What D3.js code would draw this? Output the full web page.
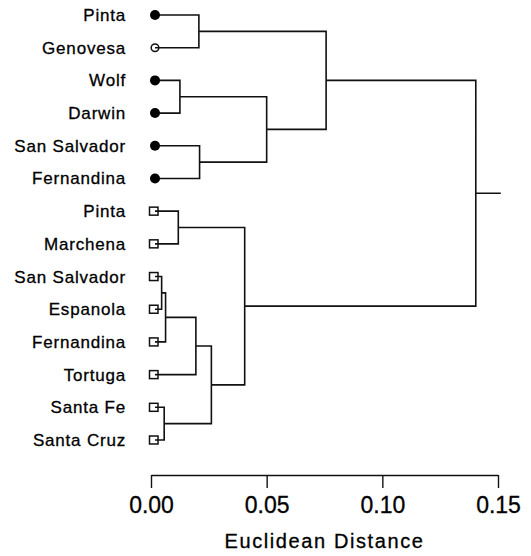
<!DOCTYPE html>
<html lang="en">
    <head>
        <meta charset="utf-8">
        <title>Dendrogram of island populations</title>
        <script src="https://d3js.org/d3.v7.min.js"></script>
        <style type="text/css">
            body{
                margin: 0;
                background: white;
            }
            svg{
                display: block;
            }
            .leafLabel{
                font-family: "Liberation Sans", Arial, sans-serif;
                font-size: 17px;
                letter-spacing: 0.8px;
                fill: black;
                stroke: black;
                stroke-width: 0.3px;
            }
            .axis text{
                font-family: "Liberation Sans", Arial, sans-serif;
                font-size: 23px;
                fill: black;
                stroke: black;
                stroke-width: 0.3px;
            }
            .axis path, .axis line{
                stroke: #111;
                stroke-width: 1.4px;
            }
            .branch{
                fill: none;
                stroke: #111;
                stroke-width: 1.6px;
            }
        </style>
    </head>
    <body>
        <svg width="531" height="556"></svg>
        <script type="text/javascript">

            // leaves, top to bottom
            const leafNames = ["Pinta", "Genovesa", "Wolf", "Darwin", "San Salvador", "Fernandina",
                               "Pinta", "Marchena", "San Salvador", "Espanola", "Fernandina", "Tortuga",
                               "Santa Fe", "Santa Cruz"];
            const leafMarkers = ["filled", "open", "filled", "filled", "filled", "filled",
                                 "square", "square", "square", "square", "square", "square",
                                 "square", "square"];

            // merges: node 14 onwards, children refer to leaf index (<14) or earlier merge
            const mergeLeft   = [2, 4, 0, 14, 16, 6, 8, 20, 21, 12, 22, 19, 18];
            const mergeRight  = [3, 5, 1, 15, 17, 7, 9, 10, 11, 13, 23, 24, 25];
            const mergeHeight = [0.0125, 0.021, 0.0207, 0.050, 0.0757, 0.0118, 0.0046,
                                 0.0063, 0.0194, 0.0057, 0.0261, 0.0405, 0.1404];

            const axisTicks = [0, 0.05, 0.10, 0.15];
            const axisTitle = "Euclidean Distance";

            const svg = d3.select("svg");

            const xScale = d3.scaleLinear()
                            .domain([0, 0.15])
                            .range([151, 498]);

            const yScale = d3.scalePoint()
                            .domain(d3.range(leafNames.length))
                            .range([15, 440]);

            const n = leafNames.length;
            const markerOffset = 4;

            // position of every node
            const nodeX = [];
            const nodeY = [];
            leafNames.forEach((d, i) => {
                nodeX[i] = xScale(0) + markerOffset;
                nodeY[i] = yScale(i);
            });
            mergeHeight.forEach((h, k) => {
                const id = n + k;
                nodeX[id] = xScale(h);
                nodeY[id] = (nodeY[mergeLeft[k]] + nodeY[mergeRight[k]]) / 2;
            });

            // elbow branches
            const path = d3.path();
            mergeHeight.forEach((h, k) => {
                const a = mergeLeft[k], b = mergeRight[k];
                const x = nodeX[n + k];
                path.moveTo(nodeX[a], nodeY[a]);
                path.lineTo(x, nodeY[a]);
                path.lineTo(x, nodeY[b]);
                path.lineTo(nodeX[b], nodeY[b]);
            });
            // root stem
            const rootId = n + mergeHeight.length - 1;
            path.moveTo(nodeX[rootId], nodeY[rootId]);
            path.lineTo(nodeX[rootId] + 25, nodeY[rootId]);

            svg.append("path")
                .attr("class", "branch")
                .attr("d", path.toString());

            // markers
            const leaves = svg.selectAll(".leaf")
                            .data(leafNames)
                            .join("g")
                            .attr("class", "leaf")
                            .attr("transform", (d, i) => "translate(" + nodeX[i] + "," + nodeY[i] + ")");

            leaves.filter((d, i) => leafMarkers[i] == "filled")
                .append("circle")
                .attr("r", 5)
                .attr("fill", "black");

            leaves.filter((d, i) => leafMarkers[i] == "open")
                .append("circle")
                .attr("r", 3.8)
                .attr("fill", "none")
                .attr("stroke", "#111")
                .attr("stroke-width", 1.5);

            leaves.filter((d, i) => leafMarkers[i] == "square")
                .append("rect")
                .attr("x", -5.5)
                .attr("y", -4)
                .attr("width", 8.5)
                .attr("height", 8)
                .attr("fill", "none")
                .attr("stroke", "#111")
                .attr("stroke-width", 1.5);

            leaves.append("text")
                .attr("class", "leafLabel")
                .attr("x", -29)
                .attr("y", 6)
                .attr("text-anchor", "end")
                .text(d => d);

            // axis
            svg.append("g")
                .attr("class", "axis")
                .attr("transform", "translate(0,475)")
                .call(d3.axisBottom(xScale)
                        .tickValues(axisTicks)
                        .tickFormat(d3.format(".2f"))
                        .tickSize(13)
                        .tickSizeOuter(0)
                        .tickPadding(9));

            svg.append("text")
                .attr("x", (xScale(0) + xScale(0.15)) / 2)
                .attr("y", 548)
                .attr("text-anchor", "middle")
                .attr("font-family", "Liberation Sans, Arial, sans-serif")
                .attr("font-size", "20px")
                .attr("letter-spacing", "1.6px")
                .attr("fill", "black")
                .attr("stroke", "black")
                .attr("stroke-width", 0.3)
                .text(axisTitle);

        </script>
    </body>
</html>
